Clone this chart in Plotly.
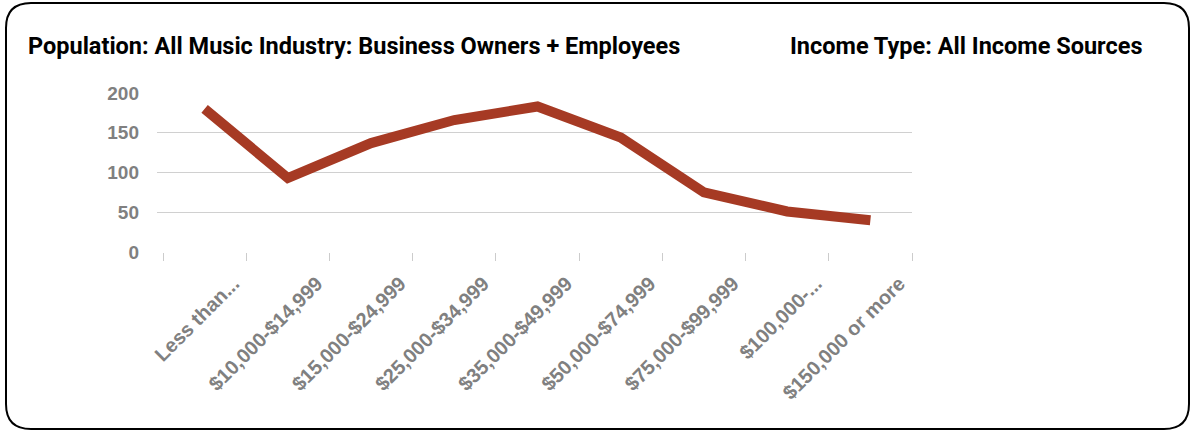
import plotly.graph_objects as go

categories = ["Less than...", "$10,000-$14,999", "$15,000-$24,999", "$25,000-$34,999",
              "$35,000-$49,999", "$50,000-$74,999", "$75,000-$99,999", "$100,000-...",
              "$150,000 or more"]
values = [180, 93, 137, 166, 183, 144, 75, 51, 40]
y_ticks = [0, 50, 100, 150, 200]
title_left = "Population: All Music Industry: Business Owners + Employees"
title_right = "Income Type: All Income Sources"

W, H = 1192, 432
L, R, T, B = 157, 912, 93, 252  # plot area in pixels

def px(x):
    return (x - L) / (R - L)

def py(y):
    return (B - y) / (B - T)

fig = go.Figure()
fig.add_trace(go.Scatter(
    x=categories, y=values, mode="lines",
    line=dict(color="#A63A24", width=10),
    hoverinfo="skip", showlegend=False,
))

# rounded frame
x0, x1, y0, y1, r = 6, 1189, 3, 429, 25
path = (f"M {px(x0+r)},{py(y0)} L {px(x1-r)},{py(y0)} Q {px(x1)},{py(y0)} {px(x1)},{py(y0+r)} "
        f"L {px(x1)},{py(y1-r)} Q {px(x1)},{py(y1)} {px(x1-r)},{py(y1)} "
        f"L {px(x0+r)},{py(y1)} Q {px(x0)},{py(y1)} {px(x0)},{py(y1-r)} "
        f"L {px(x0)},{py(y0+r)} Q {px(x0)},{py(y0)} {px(x0+r)},{py(y0)} Z")
fig.add_shape(type="path", path=path, xref="paper", yref="paper",
              line=dict(color="black", width=2), layer="below")

title_font = dict(family="Roboto", size=23.5, color="black", weight="bold")
fig.add_annotation(text=f"<b>{title_left}</b>", x=px(26), y=py(46), xref="paper", yref="paper",
                   xanchor="left", yanchor="middle", showarrow=False, font=title_font)
fig.add_annotation(text=f"<b>{title_right}</b>", x=px(1145), y=py(46), xref="paper", yref="paper",
                   xanchor="right", yanchor="middle", showarrow=False, font=title_font)

n = len(categories)
pad = 6 / ((R - L - 6) / n)
fig.update_layout(
    width=W, height=H,
    margin=dict(l=L, r=W - R, t=T, b=H - B, pad=0),
    paper_bgcolor="white", plot_bgcolor="white",
    xaxis=dict(
        range=[-0.5 - pad, n - 0.5], tickson="boundaries", ticks="outside", ticklen=8,
        tickcolor="#cccccc", tickwidth=1, tickangle=-45,
        showgrid=False, showline=False, zeroline=False,
        tickfont=dict(family="Liberation Sans", size=20, color="#808080", weight="bold"),
        ticklabelshift=29, ticklabelstandoff=15,
    ),
    yaxis=dict(
        range=[0, 200], tickvals=y_ticks, showgrid=True, gridcolor="#d0d0d0", gridwidth=1,
        zeroline=False, showline=False, ticks="", ticklabelstandoff=17,
        tickfont=dict(family="Liberation Sans", size=19, color="#808080", weight="bold"),
    ),
)
fig.write_html("out.html", config={"displayModeBar": False},
               post_script="document.body.style.margin='0';document.body.style.overflow='hidden';")
